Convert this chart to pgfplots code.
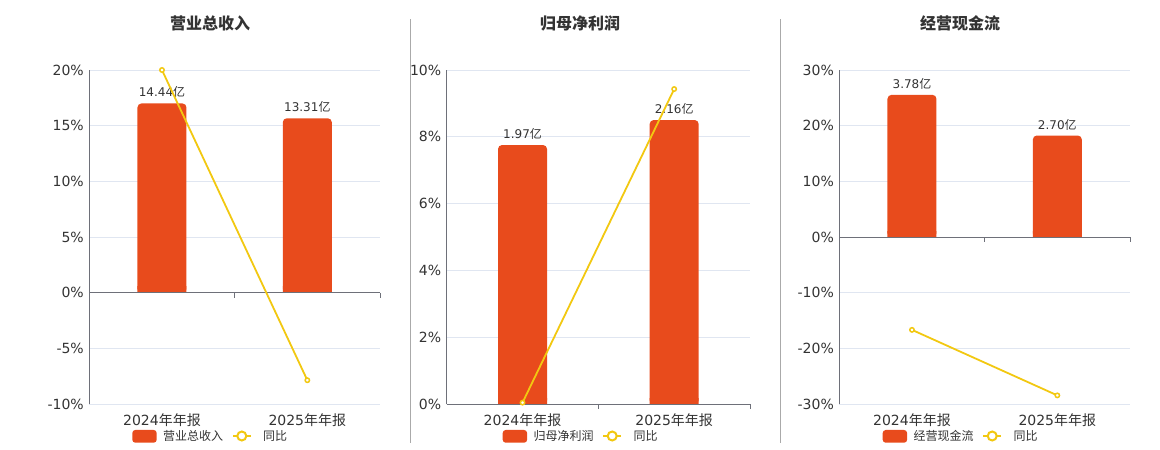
\documentclass[border=0pt]{standalone}
\usepackage{pgfplots}
\usepackage{pgfplotstable}
\pgfplotsset{compat=1.18}
\usepackage{fontspec}
\setmainfont{DejaVu Sans}
\newfontfamily\cjk{Noto Sans CJK SC}
\definecolor{barred}{HTML}{E84B1C}
\definecolor{lineyel}{HTML}{F2C811}
\definecolor{axgrey}{HTML}{6E7079}
\definecolor{gridc}{HTML}{E0E6F1}
\definecolor{txt}{HTML}{333333}
\definecolor{sepc}{HTML}{AAAAAA}

% x: category index, bar: value in 亿, yoy: 同比 in %
\pgfplotstableread{
x bar yoy
0 14.44 20.0
1 13.31 -7.84
}\tA
\pgfplotstableread{
x bar yoy
0 1.97 0.05
1 2.16 9.43
}\tB
\pgfplotstableread{
x bar yoy
0 3.78 -16.64
1 2.70 -28.4
}\tC

\pgfplotsset{
  frameax/.style={scale only axis, anchor=south west, xmin=-0.5, xmax=1.5,
    axis line style={draw=none}, major tick length=0pt,
    xtick={0,1}, xticklabels={2024{\cjk 年年报},2025{\cjk 年年报}},
    ymajorgrids, grid style={gridc, line width=0.8bp},
    tick label style={font=\fontsize{14bp}{16bp}\selectfont, text=txt, inner sep=0pt},
    xticklabel style={anchor=base, yshift=-20.8bp},
    yticklabel style={anchor=base east, xshift=-5.3bp, yshift=-5.1bp}},
  barax/.style={scale only axis, anchor=south west, xmin=-0.5, xmax=1.5, hide axis,
    /pgf/number format/assume math mode=true},
  lineax/.style={scale only axis, anchor=south west, xmin=-0.5, xmax=1.5, hide axis, clip=false},
  barplot/.style={ybar, bar width=49bp, fill=barred, draw=none},
  rbarplot/.style={ybar, bar width=49bp, fill=barred, draw=none, rounded corners=4bp,
    nodes near coords={\pgfmathprintnumber[fixed,fixed zerofill,precision=2]{\pgfplotspointmeta}{\cjk 亿}},
    every node near coord/.append style={font=\fontsize{12bp}{14bp}\selectfont, text=txt,
      anchor=base, inner sep=0pt, yshift=6.5bp, rounded corners=0pt}},
  yoyplot/.style={lineyel, line width=1.8bp, mark=*, mark size=2.2bp,
    mark options={fill=white, draw=lineyel, line width=1.5bp}},
}

\begin{document}
\begin{tikzpicture}
\path[use as bounding box] (0,0) rectangle (1160bp,450bp);
\draw[sepc, line width=1bp] (410.3bp,7bp) -- (410.3bp,431bp);
\draw[sepc, line width=1bp] (780.3bp,7bp) -- (780.3bp,431bp);

% titles
\node[anchor=base, text=txt, font=\cjk\bfseries\fontsize{16bp}{18bp}\selectfont] at (210bp,420.6bp) {营业总收入};
\node[anchor=base, text=txt, font=\cjk\bfseries\fontsize{16bp}{18bp}\selectfont] at (580bp,420.6bp) {归母净利润};
\node[anchor=base, text=txt, font=\cjk\bfseries\fontsize{16bp}{18bp}\selectfont] at (960bp,420.6bp) {经营现金流};

% ================= Panel 1 =================
\begin{axis}[frameax, at={(89.3bp,45.7bp)}, width=290.7bp, height=334.3bp,
  ymin=-10, ymax=20, ytick={-10,-5,0,5,10,15,20},
  yticklabels={-10\%,-5\%,0\%,5\%,10\%,15\%,20\%}]
\end{axis}
\begin{axis}[barax, at={(89.3bp,157.13bp)}, width=290.7bp, height=222.87bp, ymin=0, ymax=16.99]
\addplot[rbarplot] table[x=x,y=bar]{\tA};
\end{axis}
\begin{axis}[barax, at={(89.3bp,157.13bp)}, width=290.7bp, height=6bp, ymin=0, ymax=0.4575]
\addplot[barplot] table[x=x,y=bar]{\tA};
\end{axis}
\begin{axis}[lineax, at={(89.3bp,45.7bp)}, width=290.7bp, height=334.3bp, ymin=-10, ymax=20]
\draw[axgrey, line width=1bp] (axis cs:-0.5,-10) -- (axis cs:-0.5,20);
\draw[axgrey, line width=1bp] (axis cs:-0.5,0) -- (axis cs:1.5,0);
\draw[axgrey, line width=1bp] (axis cs:0.5,0) -- ([yshift=-5bp]axis cs:0.5,0);
\draw[axgrey, line width=1bp] (axis cs:1.5,0) -- ([yshift=-5bp]axis cs:1.5,0);
\addplot[yoyplot] table[x=x,y=yoy]{\tA};
\end{axis}

% ================= Panel 2 =================
\begin{axis}[frameax, at={(446.7bp,45.7bp)}, width=303.3bp, height=334.3bp,
  ymin=0, ymax=10, ytick={0,2,4,6,8,10},
  yticklabels={0\%,2\%,4\%,6\%,8\%,10\%}]
\end{axis}
\begin{axis}[barax, at={(446.7bp,45.7bp)}, width=303.3bp, height=334.3bp, ymin=0, ymax=2.540]
\addplot[rbarplot] table[x=x,y=bar]{\tB};
\end{axis}
\begin{axis}[barax, at={(446.7bp,45.7bp)}, width=303.3bp, height=6bp, ymin=0, ymax=0.04559]
\addplot[barplot] table[x=x,y=bar]{\tB};
\end{axis}
\begin{axis}[lineax, at={(446.7bp,45.7bp)}, width=303.3bp, height=334.3bp, ymin=0, ymax=10]
\draw[axgrey, line width=1bp] (axis cs:-0.5,0) -- (axis cs:-0.5,10);
\draw[axgrey, line width=1bp] (axis cs:-0.5,0) -- (axis cs:1.5,0);
\draw[axgrey, line width=1bp] (axis cs:0.5,0) -- ([yshift=-5bp]axis cs:0.5,0);
\draw[axgrey, line width=1bp] (axis cs:1.5,0) -- ([yshift=-5bp]axis cs:1.5,0);
\addplot[yoyplot] table[x=x,y=yoy]{\tB};
\end{axis}

% ================= Panel 3 =================
\begin{axis}[frameax, at={(839.3bp,45.7bp)}, width=290.7bp, height=334.3bp,
  ymin=-30, ymax=30, ytick={-30,-20,-10,0,10,20,30},
  yticklabels={-30\%,-20\%,-10\%,0\%,10\%,20\%,30\%}]
\end{axis}
\begin{axis}[barax, at={(839.3bp,212.85bp)}, width=290.7bp, height=167.15bp, ymin=0, ymax=4.44]
\addplot[rbarplot] table[x=x,y=bar]{\tC};
\end{axis}
\begin{axis}[barax, at={(839.3bp,212.85bp)}, width=290.7bp, height=6bp, ymin=0, ymax=0.1594]
\addplot[barplot] table[x=x,y=bar]{\tC};
\end{axis}
\begin{axis}[lineax, at={(839.3bp,45.7bp)}, width=290.7bp, height=334.3bp, ymin=-30, ymax=30]
\draw[axgrey, line width=1bp] (axis cs:-0.5,-30) -- (axis cs:-0.5,30);
\draw[axgrey, line width=1bp] (axis cs:-0.5,0) -- (axis cs:1.5,0);
\draw[axgrey, line width=1bp] (axis cs:0.5,0) -- ([yshift=-5bp]axis cs:0.5,0);
\draw[axgrey, line width=1bp] (axis cs:1.5,0) -- ([yshift=-5bp]axis cs:1.5,0);
\addplot[yoyplot] table[x=x,y=yoy]{\tC};
\end{axis}

% ================= Legends =================
\foreach \lx/\name in {132.3/营业总收入, 502.7/归母净利润, 882.7/经营现金流}{
  \fill[barred, rounded corners=3bp] (\lx bp,7.3bp) rectangle ({\lx bp+24.4bp},20bp);
  \node[anchor=base west, inner sep=0pt, text=txt, font=\cjk\fontsize{12bp}{14bp}\selectfont] at ({\lx bp+30.7bp},9.4bp) {\name};
  \draw[lineyel, line width=2bp] ({\lx bp+100.7bp},14bp) -- ({\lx bp+118.4bp},14bp);
  \draw[lineyel, fill=white, line width=2bp] ({\lx bp+109.5bp},14bp) circle (4.5bp);
  \node[anchor=base west, inner sep=0pt, text=txt, font=\cjk\fontsize{12bp}{14bp}\selectfont] at ({\lx bp+130.7bp},9.4bp) {同比};
}
\end{tikzpicture}
\end{document}
